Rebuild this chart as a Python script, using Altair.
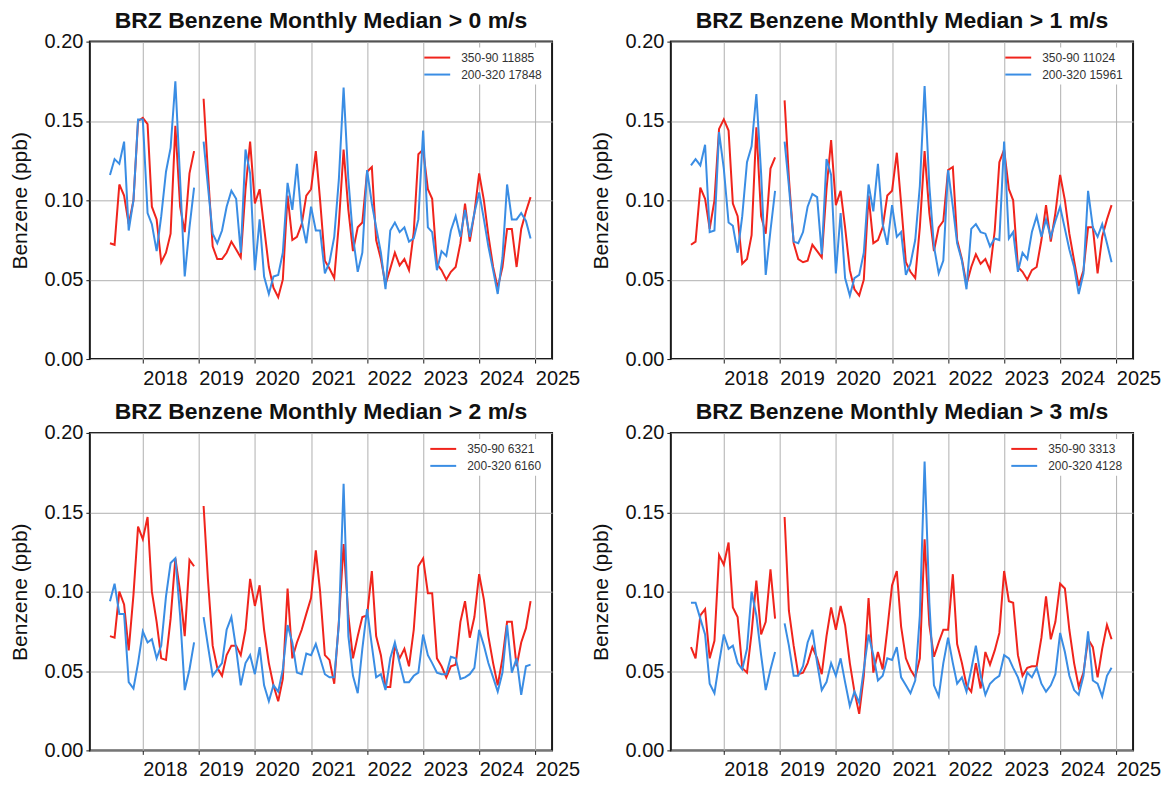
import altair as alt
import pandas as pd

# ---------------- data (monthly medians, Jun 2017 .. Dec 2024; Jan 2019 missing) ----------------
START = "2017-06-01"
N_MONTHS = 91

titles = [
    "BRZ Benzene Monthly Median > 0 m/s",
    "BRZ Benzene Monthly Median > 1 m/s",
    "BRZ Benzene Monthly Median > 2 m/s",
    "BRZ Benzene Monthly Median > 3 m/s",
]
red_labels = ["350-90 11885", "350-90 11024", "350-90 6321", "350-90 3313"]
blue_labels = ["200-320 17848", "200-320 15961", "200-320 6160", "200-320 4128"]

red_0 = [0.073, 0.072, 0.110, 0.103, 0.085, 0.100, 0.150, 0.152, 0.148, 0.096, 0.088, 0.061, 0.067, 0.079, 0.147, 0.096, 0.080, 0.117, 0.131, None,
         0.164, 0.118, 0.071, 0.063, 0.063, 0.067, 0.074, 0.069, 0.064, 0.107,
         0.137, 0.098, 0.107, 0.083, 0.058, 0.045, 0.039, 0.050, 0.103, 0.075,
         0.077, 0.085, 0.103, 0.107, 0.131, 0.100, 0.062, 0.057, 0.051, 0.085,
         0.132, 0.094, 0.068, 0.083, 0.086, 0.118, 0.121, 0.075, 0.063, 0.047,
         0.057, 0.067, 0.059, 0.063, 0.056, 0.080, 0.129, 0.132, 0.107, 0.101,
         0.060, 0.056, 0.050, 0.055, 0.058, 0.073, 0.098, 0.074, 0.092, 0.117,
         0.100, 0.078, 0.058, 0.045, 0.058, 0.082, 0.082, 0.058, 0.082, 0.093, 0.102]
blue_0 = [0.116, 0.126, 0.123, 0.137, 0.081, 0.100, 0.151, 0.151, 0.092, 0.085, 0.068, 0.090, 0.118, 0.133, 0.175, 0.113, 0.052, 0.083, 0.108, None,
          0.137, 0.109, 0.079, 0.073, 0.081, 0.096, 0.106, 0.101, 0.067, 0.132,
          0.117, 0.056, 0.088, 0.052, 0.041, 0.052, 0.053, 0.067, 0.111, 0.094,
          0.123, 0.087, 0.073, 0.096, 0.081, 0.081, 0.054, 0.061, 0.077, 0.113,
          0.171, 0.113, 0.077, 0.055, 0.067, 0.119, 0.098, 0.083, 0.067, 0.044,
          0.081, 0.086, 0.080, 0.083, 0.074, 0.076, 0.088, 0.144, 0.083, 0.080,
          0.056, 0.068, 0.065, 0.081, 0.090, 0.077, 0.094, 0.077, 0.092, 0.105,
          0.088, 0.071, 0.056, 0.041, 0.064, 0.110, 0.088, 0.088, 0.092, 0.087, 0.076]

red_1 = [0.072, 0.074, 0.108, 0.101, 0.082, 0.100, 0.145, 0.151, 0.144, 0.098, 0.090, 0.060, 0.063, 0.078, 0.146, 0.090, 0.079, 0.120, 0.127, None,
         0.163, 0.114, 0.073, 0.063, 0.061, 0.062, 0.072, 0.068, 0.064, 0.107,
         0.138, 0.097, 0.106, 0.083, 0.056, 0.044, 0.040, 0.050, 0.103, 0.073,
         0.075, 0.083, 0.103, 0.106, 0.130, 0.098, 0.061, 0.055, 0.051, 0.083,
         0.131, 0.092, 0.068, 0.083, 0.087, 0.119, 0.121, 0.075, 0.063, 0.047,
         0.058, 0.066, 0.060, 0.063, 0.056, 0.081, 0.124, 0.132, 0.107, 0.100,
         0.058, 0.055, 0.050, 0.056, 0.058, 0.075, 0.097, 0.074, 0.092, 0.116,
         0.100, 0.079, 0.062, 0.046, 0.056, 0.083, 0.083, 0.054, 0.077, 0.088, 0.097]
blue_1 = [0.122, 0.126, 0.122, 0.135, 0.080, 0.081, 0.143, 0.120, 0.086, 0.084, 0.067, 0.090, 0.124, 0.134, 0.167, 0.117, 0.053, 0.081, 0.106, None,
          0.137, 0.109, 0.074, 0.073, 0.080, 0.096, 0.104, 0.102, 0.066, 0.126,
          0.116, 0.054, 0.092, 0.051, 0.040, 0.051, 0.053, 0.067, 0.110, 0.093,
          0.123, 0.085, 0.072, 0.097, 0.077, 0.080, 0.053, 0.060, 0.075, 0.109,
          0.172, 0.109, 0.071, 0.054, 0.062, 0.119, 0.096, 0.073, 0.062, 0.044,
          0.082, 0.085, 0.080, 0.079, 0.071, 0.076, 0.075, 0.137, 0.076, 0.080,
          0.055, 0.067, 0.063, 0.080, 0.090, 0.077, 0.088, 0.077, 0.087, 0.096,
          0.082, 0.069, 0.058, 0.041, 0.054, 0.106, 0.083, 0.077, 0.085, 0.073, 0.061]

red_2 = [0.072, 0.071, 0.100, 0.092, 0.063, 0.098, 0.141, 0.133, 0.147, 0.100, 0.081, 0.058, 0.057, 0.083, 0.121, 0.100, 0.072, 0.120, 0.116, None,
         0.154, 0.108, 0.066, 0.052, 0.047, 0.060, 0.066, 0.066, 0.060, 0.076,
         0.108, 0.091, 0.104, 0.076, 0.055, 0.041, 0.031, 0.045, 0.102, 0.058,
         0.068, 0.076, 0.086, 0.096, 0.126, 0.100, 0.060, 0.057, 0.042, 0.081,
         0.130, 0.085, 0.058, 0.072, 0.084, 0.085, 0.113, 0.072, 0.060, 0.040,
         0.040, 0.066, 0.058, 0.064, 0.053, 0.076, 0.116, 0.121, 0.099, 0.099,
         0.058, 0.053, 0.046, 0.053, 0.054, 0.081, 0.094, 0.071, 0.084, 0.111,
         0.095, 0.072, 0.055, 0.041, 0.058, 0.081, 0.081, 0.053, 0.068, 0.077, 0.094]
blue_2 = [0.094, 0.105, 0.086, 0.086, 0.043, 0.039, 0.055, 0.075, 0.068, 0.070, 0.058, 0.066, 0.097, 0.118, 0.121, 0.085, 0.038, 0.051, 0.068, None,
          0.084, 0.066, 0.047, 0.051, 0.055, 0.076, 0.084, 0.064, 0.041, 0.055,
          0.060, 0.048, 0.065, 0.041, 0.031, 0.041, 0.037, 0.051, 0.079, 0.068,
          0.049, 0.048, 0.061, 0.060, 0.067, 0.058, 0.048, 0.046, 0.046, 0.079,
          0.168, 0.072, 0.047, 0.036, 0.064, 0.089, 0.066, 0.046, 0.048, 0.038,
          0.058, 0.068, 0.055, 0.043, 0.043, 0.047, 0.049, 0.073, 0.060, 0.055,
          0.049, 0.048, 0.048, 0.059, 0.058, 0.045, 0.046, 0.048, 0.052, 0.076,
          0.066, 0.055, 0.046, 0.037, 0.049, 0.079, 0.049, 0.058, 0.035, 0.053, 0.054]

red_3 = [0.065, 0.058, 0.085, 0.089, 0.058, 0.069, 0.123, 0.117, 0.131, 0.090, 0.084, 0.052, 0.049, 0.074, 0.107, 0.073, 0.081, 0.114, 0.083, None,
         0.147, 0.088, 0.066, 0.048, 0.049, 0.055, 0.065, 0.058, 0.048, 0.072,
         0.090, 0.076, 0.091, 0.079, 0.055, 0.037, 0.023, 0.047, 0.096, 0.049,
         0.062, 0.051, 0.076, 0.104, 0.113, 0.078, 0.058, 0.051, 0.046, 0.058,
         0.133, 0.079, 0.059, 0.068, 0.076, 0.076, 0.111, 0.067, 0.055, 0.041,
         0.037, 0.055, 0.039, 0.062, 0.054, 0.063, 0.074, 0.113, 0.094, 0.093,
         0.060, 0.047, 0.052, 0.053, 0.053, 0.071, 0.097, 0.070, 0.081, 0.105,
         0.102, 0.076, 0.055, 0.040, 0.049, 0.070, 0.065, 0.046, 0.064, 0.079, 0.070]
blue_3 = [0.093, 0.093, 0.083, 0.073, 0.042, 0.036, 0.055, 0.073, 0.064, 0.066, 0.055, 0.051, 0.064, 0.100, 0.085, 0.060, 0.038, 0.051, 0.062, None,
          0.080, 0.066, 0.047, 0.047, 0.053, 0.068, 0.076, 0.055, 0.038, 0.043,
          0.055, 0.047, 0.058, 0.043, 0.028, 0.037, 0.030, 0.051, 0.073, 0.060,
          0.044, 0.047, 0.058, 0.057, 0.065, 0.046, 0.041, 0.036, 0.044, 0.085,
          0.182, 0.093, 0.041, 0.034, 0.055, 0.071, 0.055, 0.042, 0.046, 0.037,
          0.051, 0.066, 0.047, 0.035, 0.042, 0.045, 0.047, 0.060, 0.058, 0.052,
          0.046, 0.037, 0.049, 0.046, 0.052, 0.042, 0.037, 0.041, 0.048, 0.074,
          0.062, 0.047, 0.038, 0.035, 0.047, 0.075, 0.044, 0.042, 0.034, 0.047, 0.052]

red_series = [red_0, red_1, red_2, red_3]
blue_series = [blue_0, blue_1, blue_2, blue_3]

year_ticks = list(range(2018, 2026))
y_ticks = [0.0, 0.05, 0.10, 0.15, 0.20]

RED = "#f0241c"
BLUE = "#3a8de4"
FONT = "Liberation Sans"

months = pd.date_range(START, periods=N_MONTHS, freq="MS")


def panel(k):
    rows = []
    for vals, label in ((red_series[k], red_labels[k]), (blue_series[k], blue_labels[k])):
        assert len(vals) == N_MONTHS
        seg = 0
        for d, v in zip(months, vals):
            if v is None:
                seg += 1
                continue
            rows.append({"date": d, "value": v, "series": label, "seg": seg})
    df = pd.DataFrame(rows)
    return (
        alt.Chart(df)
        .mark_line(strokeWidth=2)
        .encode(
            x=alt.X(
                "date:T",
                scale=alt.Scale(domain=[alt.DateTime(year=2017, month=1, date=21),
                                        alt.DateTime(year=2025, month=4, date=20)]),
                axis=alt.Axis(
                    values=[alt.DateTime(year=y, month=1, date=1) for y in year_ticks],
                    format="%Y", labelAlign="left", labelAngle=0, labelFlush=False,
                    labelPadding=5, title=None,
                ),
            ),
            y=alt.Y(
                "value:Q",
                scale=alt.Scale(domain=[0, 0.2], nice=False),
                axis=alt.Axis(values=y_ticks, format=".2f", title="Benzene (ppb)",
                              labelPadding=3, titlePadding=14),
            ),
            color=alt.Color(
                "series:N",
                scale=alt.Scale(domain=[red_labels[k], blue_labels[k]], range=[RED, BLUE]),
                sort=[red_labels[k], blue_labels[k]],
                legend=alt.Legend(title=None, orient="top-right"),
            ),
            detail="seg:N",
        )
        .properties(width=463, height=318, title=titles[k])
    )


chart = (
    alt.concat(panel(0), panel(1), panel(2), panel(3), columns=2,
               spacing={"row": 74, "column": 119}, bounds="flush")
    .resolve_scale(color="independent")
    .properties(padding={"left": 0, "top": 0, "right": 2, "bottom": 2})
    .configure_view(stroke="#1a1a1a", strokeWidth=2)
    .configure_axis(
        labelFont=FONT, labelFontSize=20, labelColor="#111111",
        titleFont=FONT, titleFontSize=21, titleFontWeight="normal", titleColor="#111111",
        grid=True, gridColor="#b0b0b0", gridWidth=1,
        domain=False, ticks=True, tickColor="#1a1a1a", tickSize=4,
    )
    .configure_title(font=FONT, fontSize=23, fontWeight="bold", color="#111111",
                     anchor="middle", offset=-1)
    .configure_legend(
        labelFont=FONT, labelFontSize=12, labelColor="#333333",
        symbolType="M-4,0H4", symbolStrokeWidth=2, symbolSize=42,
        offset=6, padding=4, rowPadding=5, labelOffset=18,
        fillColor="white",
    )
)

chart.save("out.html", embed_options={"renderer": "svg", "actions": False})
